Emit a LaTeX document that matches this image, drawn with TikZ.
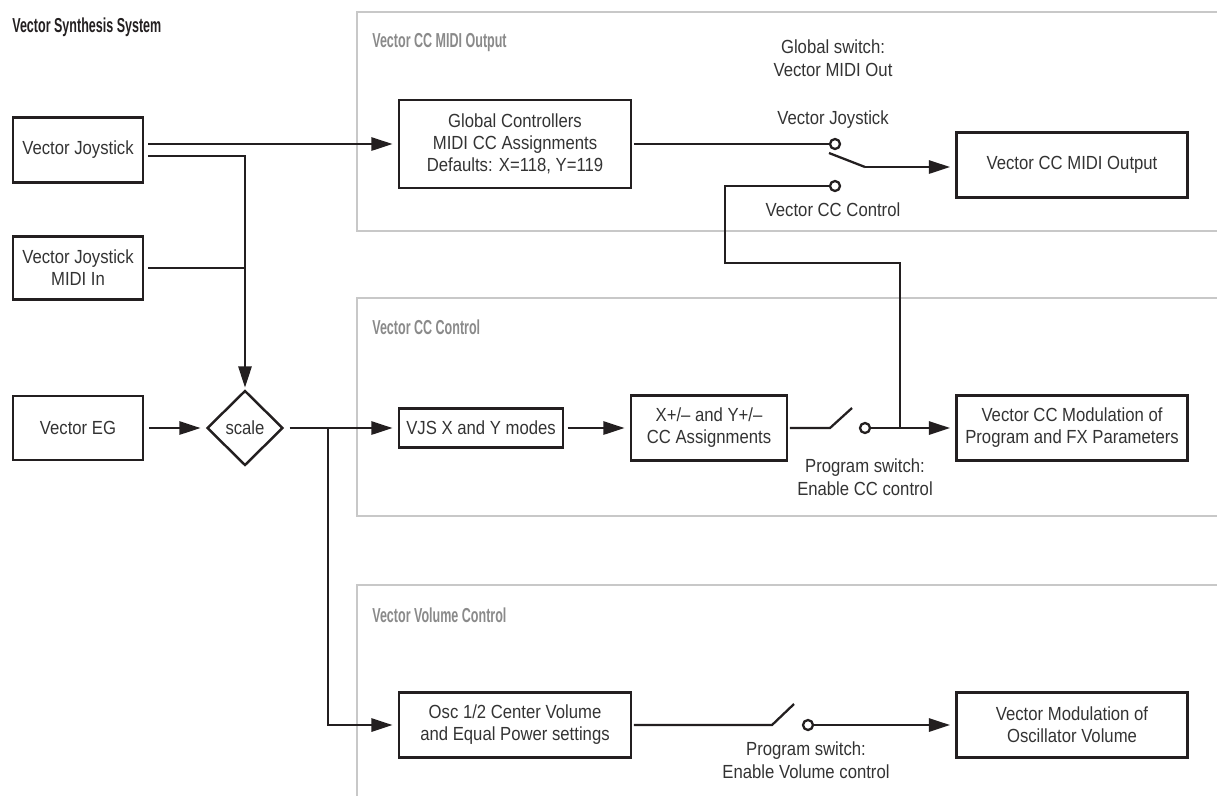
\documentclass[tikz,border=0pt]{standalone}
\usepackage{fontspec}
\setmainfont{Liberation Sans}[FakeStretch=0.88]
\newfontfamily\headfont{Liberation Sans}[FakeStretch=0.62]
\usetikzlibrary{positioning}
\usetikzlibrary{shapes.geometric}
\usetikzlibrary{arrows.meta}
\usetikzlibrary{calc}

\definecolor{ink}{HTML}{231F20}
\definecolor{boxtext}{HTML}{333333}
\definecolor{framegray}{HTML}{C8C8C8}
\definecolor{headgray}{HTML}{8A8A8A}

\begin{document}
\begin{tikzpicture}[x=0.02cm,y=-0.02cm,
    box/.style={draw=ink,line width=1.4pt,text=boxtext,align=center,inner sep=0pt,
      font=\fontsize{10.8}{12.5}\selectfont},
    gate/.style={diamond,draw=ink,line width=1.4pt,text=boxtext,inner sep=0pt,
      minimum width=1.52cm,minimum height=1.5cm,font=\fontsize{10.8}{12.5}\selectfont},
    pin/.style={circle,draw=ink,line width=1.3pt,fill=white,inner sep=0pt,minimum size=0.2cm},
    wire/.style={draw=ink,line width=1.3pt},
    flow/.style={wire,-{Triangle[length=12pt,width=7.5pt]}},
    frame/.style={draw=framegray,line width=1.2pt},
    head/.style={anchor=west,inner sep=0pt,text=headgray,font=\headfont\bfseries\fontsize{11.5}{13}\selectfont},
    note/.style={align=center,text=boxtext,font=\fontsize{10.8}{13}\selectfont}]
  \useasboundingbox (0,0) rectangle (1217,796);

  \node[anchor=west,inner sep=0pt,text=ink,font=\headfont\bfseries\fontsize{11.5}{13}\selectfont] (title) at (12,27) {Vector Synthesis System};

  % grey group frames, open to the right
  \draw[frame] (1217,12) -| (357,231) -- (1217,231);
  \draw[frame] (1217,298) -| (357,516) -- (1217,516);
  \draw[frame] (1217,585) -| (357,796);
  \node[head] (midihead) at (372,43) {Vector CC MIDI Output};
  \node[head] (cchead) at (372,327) {Vector CC Control};
  \node[head] (volhead) at (372,615) {Vector Volume Control};

  % sources
  \node[box,minimum width=2.6cm,minimum height=1.3cm] (joy) at (78,150) {Vector Joystick};
  \node[box,minimum width=2.6cm,minimum height=1.26cm] (joymidi) at (78,268) {Vector Joystick\\MIDI In};
  \node[box,minimum width=2.6cm,minimum height=1.28cm] (eg) at (78,428) {Vector EG};
  \node[gate] (scale) at (245,428) {scale};

  % processing blocks
  \node[box,minimum width=4.64cm,minimum height=1.76cm] (glob) at (515,144) {Global Controllers\\MIDI CC Assignments\\Defaults: X=118, Y=119};
  \node[box,minimum width=3.28cm,minimum height=0.78cm] (vjs) at (481,428) {VJS X and Y modes};
  \node[box,minimum width=3.12cm,minimum height=1.3cm] (xy) at (709,428) {X+/– and Y+/–\\CC Assignments};
  \node[box,minimum width=4.64cm,minimum height=1.3cm] (osc) at (515,725) {Osc 1/2 Center Volume\\and Equal Power settings};

  % destinations
  \node[box,minimum width=4.62cm,minimum height=1.3cm] (ccout) at (1072,165) {Vector CC MIDI Output};
  \node[box,minimum width=4.62cm,minimum height=1.3cm] (ccmod) at (1072,428) {Vector CC Modulation of\\Program and FX Parameters};
  \node[box,minimum width=4.62cm,minimum height=1.3cm] (volmod) at (1072,725) {Vector Modulation of\\Oscillator Volume};

  % switch contacts and their captions
  \node[pin] (joypin) at (835,144) {};
  \node[pin] (ccpin) at (835,186) {};
  \node[pin] (progpin) at (865,428) {};
  \node[pin] (volpin) at (808,725) {};
  \node[note] (globsw) at (833,58) {Global switch:\\Vector MIDI Out};
  \node[note] (joylbl) at (833,120) {Vector Joystick};
  \node[note] (cclbl) at (833,210) {Vector CC Control};
  \node[note] (progsw) at (865,477) {Program switch:\\Enable CC control};
  \node[note] (volsw) at (806,760) {Program switch:\\Enable Volume control};

  % joystick and EG into the scaler
  \coordinate (jup) at ($(joy.east)+(0,-6)$);
  \coordinate (jdn) at ($(joy.east)+(0,6)$);
  \draw[flow,shorten <=2.3pt,shorten >=3pt] (jup) -- (glob.west);
  \draw[flow,shorten <=2.3pt,shorten >=1pt] (jdn) -| (scale.north);
  \draw[wire,shorten <=2.3pt] (joymidi.east) -- (joymidi.east -| scale.north);
  \draw[flow,shorten <=3pt,shorten >=3pt] (eg) -- (scale);

  % scaled vector signal
  \coordinate (split) at (328,428);
  \draw[flow,shorten <=3pt,shorten >=3pt] (scale) -- (vjs);
  \draw[flow,shorten >=3pt] (split) |- (osc.west);
  \draw[flow,shorten <=2pt,shorten >=3pt] (vjs) -- (xy);

  % global switch
  \coordinate (armtop) at (829,153);
  \coordinate (armend) at (865,167);
  \draw[wire,shorten <=1pt] (glob.east) -- (joypin.west);
  \draw[wire] (armtop) -- (armend);
  \draw[flow,shorten >=3pt] (armend) -- (armend -| ccout.west);
  \coordinate (tap) at (900,428);
  \draw[wire] (ccpin.west) -| (725,263) -| (tap);

  % program switches
  \coordinate (ccarm) at (830,428);
  \draw[wire,shorten <=1pt] (xy.east) -- (ccarm) -- ++(22,-20);
  \draw[flow,shorten >=3pt] (progpin.east) -- (ccmod.west);
  \coordinate (volarm) at (772,725);
  \draw[wire,shorten <=1pt] (osc.east) -- (volarm) -- ++(22,-21);
  \draw[flow,shorten >=3pt] (volpin.east) -- (volmod.west);
\end{tikzpicture}
\end{document}
